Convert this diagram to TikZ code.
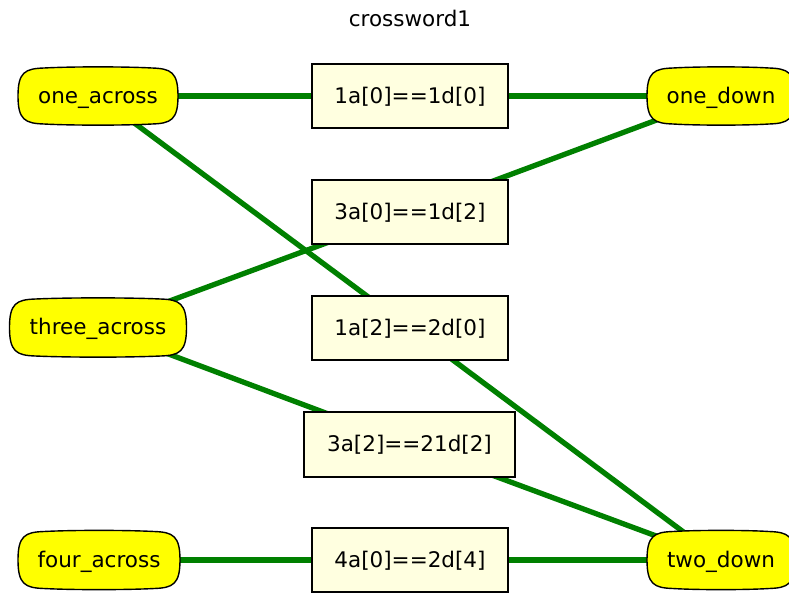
\documentclass[tikz,border=0pt]{standalone}
\usepackage{fontspec}
\setmainfont{DejaVu Sans}
\usetikzlibrary{backgrounds}
\definecolor{edgegreen}{RGB}{0,128,0}
\definecolor{boxfill}{RGB}{255,255,224}
\definecolor{varfill}{RGB}{255,255,0}
\tikzset{
  lbl/.style={font=\fontsize{21.5}{25}\selectfont, text height=17pt, text depth=3pt},
  var/.style={lbl, minimum height=58pt, inner sep=0pt},
  eggline/.style={draw=black, line width=1.4pt, fill=varfill},
  cons/.style={lbl, draw=black, line width=1.4pt, fill=boxfill, minimum width=196pt,
    minimum height=64pt, inner sep=0pt},
  link/.style={draw=edgegreen, line width=5.3pt}
}
% #1 node name, #2 half width, #3 half height
\newcommand\eggshape[3]{%
  \begin{scope}[shift={(#1.center)}]
  \path[eggline] (-#2,0)
    .. controls (-#2,-0.85*#3) and (-#2+7,-#3+0.6) .. (-#2+26,-#3)
    .. controls (-#2/3,-#3-1.5) and (#2/3,-#3-1.5) .. (#2-26,-#3)
    .. controls (#2-7,-#3+0.6) and (#2,-0.85*#3) .. (#2,0)
    .. controls (#2,0.85*#3) and (#2-7,#3-0.6) .. (#2-26,#3)
    .. controls (#2/3,#3+1.5) and (-#2/3,#3+1.5) .. (-#2+26,#3)
    .. controls (-#2+7,#3-0.6) and (-#2,0.85*#3) .. (-#2,0) -- cycle;
  \end{scope}}
\begin{document}
\begin{tikzpicture}[x=1pt,y=-1pt]
\useasboundingbox (0,0) rectangle (789,592);
\clip (0,0) rectangle (789,592);
\node[lbl] (title) at (410,19) {crossword1};
\node[var] (oa) at (98,96) {one\_across};
\node[var] (ta) at (98,327.5) {three\_across};
\node[var] (fa) at (99,560) {four\_across};
\node[var] (od) at (721,96) {one\_down};
\node[var] (td) at (721,560) {two\_down};
\node[cons] (c1) at (410,96) {1a[0]==1d[0]};
\node[cons] (c2) at (410,212) {3a[0]==1d[2]};
\node[cons] (c3) at (410,328) {1a[2]==2d[0]};
\node[cons, minimum width=211pt, minimum height=65pt] (c4) at (409.5,444.5) {3a[2]==21d[2]};
\node[cons] (c5) at (410,560) {4a[0]==2d[4]};
\begin{scope}[on background layer]
\draw[link] (oa.center) -- (c1.center);
\draw[link] (c1.center) -- (od.center);
\draw[link] (oa.center) -- (c3.center);
\draw[link] (ta.center) -- (c2.center);
\draw[link] (c2.center) -- (od.center);
\draw[link] (ta.center) -- (c4.center);
\draw[link] (c3.center) -- (td.center);
\draw[link] (c4.center) -- (td.center);
\draw[link] (fa.center) -- (c5.center);
\draw[link] (c5.center) -- (td.center);
\eggshape{oa}{80}{28}
\eggshape{ta}{88.5}{28.5}
\eggshape{fa}{81}{28.5}
\eggshape{od}{74}{28}
\eggshape{td}{74}{28.5}
\end{scope}
\end{tikzpicture}
\end{document}
